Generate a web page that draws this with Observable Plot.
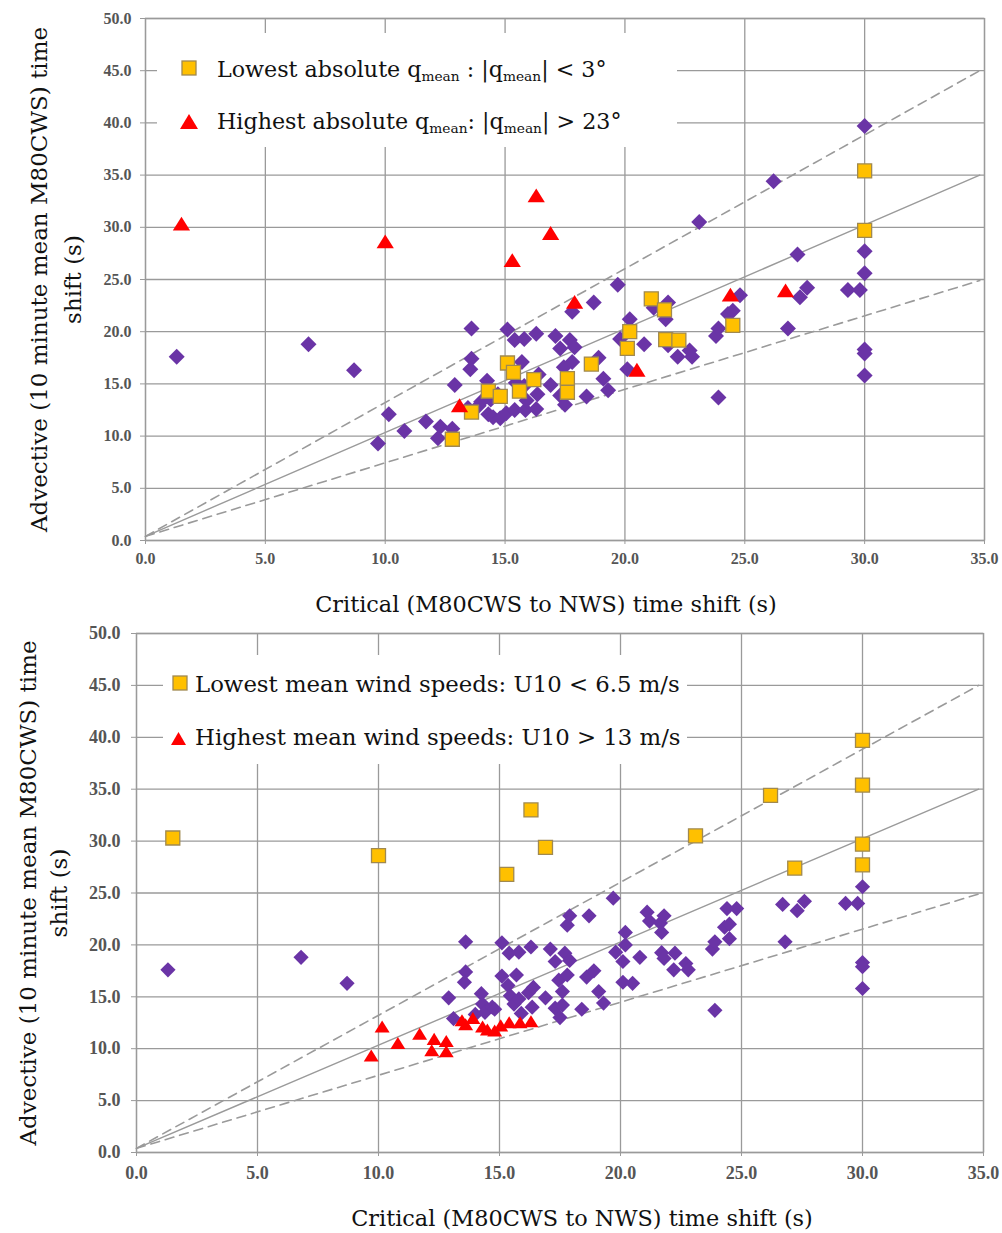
<!DOCTYPE html>
<html>
<head>
<meta charset="utf-8">
<script src="https://cdn.jsdelivr.net/npm/d3@7"></script>
<script src="https://cdn.jsdelivr.net/npm/@observablehq/plot@0.6"></script>
<style>
  body { margin: 0; background: #fff; }
  .panel { position: relative; width: 1002px; }
  .legbox { position: absolute; background: #fff; }
  .row { position: absolute; display: flex; align-items: center; white-space: nowrap;
         font-family: "DejaVu Serif", serif; color: #111; height: 40px; }
  .row svg { flex: none; }
  .sub { font-size: 0.62em; position: relative; top: 0.32em; }
</style>
</head>
<body>
<div id="p1" class="panel" style="height:620px"></div>
<div id="p2" class="panel" style="height:613px"></div>
<script>
// ---- data ----
// Critical (M80CWS to NWS) time shift (s)
const critical = [
  1.3, 1.5, 6.8, 8.7, 9.7, 10.0, 10.15, 10.8, 11.7, 12.3,
  12.2, 12.8, 12.8, 12.9, 13.1, 13.45, 13.6, 13.6, 13.6, 13.55,
  13.9, 14.0, 14.25, 14.3, 14.3, 14.5, 14.4, 14.7, 14.8, 14.8,
  15.05, 15.1, 15.1, 15.35, 15.3, 15.4, 15.4, 15.45, 15.6, 15.8,
  15.7, 15.8, 15.85, 15.9, 16.2, 16.4, 16.3, 16.35, 16.3, 16.3,
  16.9, 16.9, 17.1, 17.3, 17.45, 17.3, 17.6, 17.6, 17.5, 17.7,
  17.8, 17.8, 17.9, 17.9, 18.4, 18.6, 18.7, 18.9, 19.1, 19.3,
  19.7, 19.8, 20.1, 20.1, 20.2, 20.2, 20.5, 20.8, 21.1, 21.2,
  21.65, 21.7, 21.7, 21.8, 21.8, 22.2, 22.25, 22.7, 22.8, 23.1,
  23.8, 23.9, 23.9, 24.3, 24.4, 24.5, 24.5, 24.8, 26.2, 26.8,
  26.7, 27.2, 27.3, 27.6, 29.3, 29.8, 30.0, 30.0, 30.0, 30.0,
  30.0, 30.0, 30.0, 30.0
];
// Advective (10 minute mean M80CWS) time shift (s)
const advective = [
  17.6, 30.3, 18.8, 16.3, 9.3, 28.6, 12.1, 10.5, 11.4, 10.9,
  9.8, 10.7, 9.7, 14.9, 12.9, 12.7, 12.3, 20.3, 17.4, 16.4,
  12.9, 13.3, 15.3, 14.3, 12.1, 11.8, 13.5, 14.0, 13.8, 11.7,
  12.2, 20.2, 17.0, 16.1, 26.8, 19.2, 12.5, 15.1, 14.3, 14.8,
  17.1, 19.3, 12.5, 13.4, 15.4, 15.9, 19.8, 14.0, 12.6, 33.0,
  14.9, 29.4, 19.6, 18.4, 16.6, 13.9, 15.5, 14.2, 13.0, 19.2,
  17.1, 21.9, 22.8, 18.5, 13.8, 16.9, 22.8, 17.5, 15.5, 14.4,
  24.5, 19.3, 16.4, 18.4, 20.0, 21.2, 16.3, 18.8, 23.15, 22.3,
  22.1, 21.2, 19.25, 22.8, 18.7, 17.6, 19.2, 18.2, 17.6, 30.5,
  19.6, 20.3, 13.7, 21.7, 23.5, 22.0, 20.6, 23.5, 34.4, 20.3,
  23.9, 27.4, 23.3, 24.2, 24.0, 24.0, 39.7, 35.4, 29.7, 27.7,
  25.6, 18.3, 17.9, 15.8
];
// Upper panel groups by absolute mean direction: P other, L |q|<3°, H |q|>23°
const thetaGroup = [
  "P","H","P","P","P","H","P","P","P","P",
  "P","P","L","P","H","P","L","P","P","P",
  "P","P","P","L","P","P","P","P","L","P",
  "P","P","L","L","H","P","P","P","L","P",
  "P","P","P","P","L","P","P","P","P","H",
  "P","H","P","P","P","P","L","L","P","P",
  "P","P","H","P","P","L","P","P","P","P",
  "P","P","P","L","L","P","H","P","L","P",
  "L","P","L","P","P","P","L","P","P","P",
  "P","P","P","P","H","P","L","P","P","P",
  "H","P","P","P","P","P","P","L","L","P",
  "P","P","P","P"
];
// Lower panel groups by mean wind speed: P other, L U10<6.5 m/s, H U10>13 m/s
const windGroup = [
  "P","L","P","P","H","L","H","H","H","H",
  "H","H","H","P","P","H","H","P","P","P",
  "H","P","P","P","H","H","P","P","P","H",
  "H","P","P","P","L","P","H","P","P","P",
  "P","P","H","P","P","P","P","P","H","L",
  "P","L","P","P","P","P","P","P","P","P",
  "P","P","P","P","P","P","P","P","P","P",
  "P","P","P","P","P","P","P","P","P","P",
  "P","P","P","P","P","P","P","P","P","L",
  "P","P","P","P","P","P","P","P","L","P",
  "P","L","P","P","P","P","L","L","L","L",
  "P","P","P","P"
];
const xTicks = [0, 5, 10, 15, 20, 25, 30, 35];
const yTicks = [0, 5, 10, 15, 20, 25, 30, 35, 40, 45, 50];
// reference lines (end points)
const refX = [0, 34.8];
const refUpperY = [0.4, 45.0];
const refOneY = [0.4, 35.0];
const refLowerY = [0.4, 24.9];

const xTitle = "Critical (M80CWS to NWS) time shift (s)";
const yTitle = "Advective (10 minute mean M80CWS) time\nshift (s)";

// ---- build ----
const points = critical.map((x, i) => ({x, y: advective[i], theta: thetaGroup[i], wind: windGroup[i]}));
const refLines = [
  ...refX.map((x, i) => ({x, y: refUpperY[i], k: "upper"})),
  ...refX.map((x, i) => ({x, y: refLowerY[i], k: "lower"}))
];
const oneLine = refX.map((x, i) => ({x, y: refOneY[i]}));

const diamond = {draw(c, s) { const r = Math.sqrt(s / Math.PI); c.moveTo(0, -r); c.lineTo(r, 0); c.lineTo(0, r); c.lineTo(-r, 0); c.closePath(); }};
const square = {draw(c, s) { const r = Math.sqrt(s / Math.PI); c.rect(-r, -r, 2 * r, 2 * r); }};
const triangle = {draw(c, s) { const r = Math.sqrt(s / Math.PI); c.moveTo(0, -r); c.lineTo(r * 1.15, r * 0.85); c.lineTo(-r * 1.15, r * 0.85); c.closePath(); }};

const PURPLE = "#6a34a6", ORANGE = "#ffc000", ORANGE_EDGE = "#a08950", RED = "#ff0000", GRID = "#9a9a9a";

function panel(o) {
  const key = o.key;
  return Plot.plot({
    width: 1002, height: o.height,
    marginTop: o.mt, marginBottom: o.mb, marginLeft: o.ml, marginRight: o.mr,
    x: {domain: [0, 35]},
    y: {domain: [0, 50]},
    style: {fontFamily: "DejaVu Serif, serif", background: "#fff"},
    marks: [
      Plot.gridX(xTicks, {stroke: GRID, strokeOpacity: 1, strokeWidth: 1.3}),
      Plot.gridY(yTicks, {stroke: GRID, strokeOpacity: 1, strokeWidth: 1.3}),
      Plot.frame({stroke: GRID, strokeWidth: 1.3}),
      Plot.axisX(xTicks, {tickSize: 4, tickPadding: o.xPad, tickFormat: d => d.toFixed(1), fontSize: o.tickFont, fontFamily: "Liberation Serif, serif", fontWeight: "bold", fill: "#555", stroke: GRID, label: null}),
      Plot.axisY(yTicks, {tickSize: 5, tickPadding: o.yPad, tickFormat: d => d.toFixed(1), fontSize: o.tickFont, fontFamily: "Liberation Serif, serif", fontWeight: "bold", fill: "#555", stroke: GRID, label: null}),
      Plot.line(refLines, {x: "x", y: "y", z: "k", stroke: GRID, strokeWidth: 1.6, strokeDasharray: "9,6"}),
      Plot.line(oneLine, {x: "x", y: "y", stroke: GRID, strokeWidth: 1.4}),
      Plot.dot(points.filter(d => d[key] === "P"), {x: "x", y: "y", symbol: diamond, r: o.dr, fill: PURPLE, stroke: "none"}),
      Plot.dot(points.filter(d => d[key] === "L"), {x: "x", y: "y", symbol: square, r: 7, fill: ORANGE, stroke: ORANGE_EDGE, strokeWidth: 1.3}),
      Plot.dot(points.filter(d => d[key] === "H"), {x: "x", y: "y", symbol: triangle, r: o.tr, fill: RED, stroke: "none"}),
      Plot.text([xTitle], {frameAnchor: "bottom", dx: o.xTitleDx, dy: o.xTitleDy, text: d => d, fontSize: o.xTitleFont, fill: "#111", lineAnchor: "middle"}),
      Plot.text([yTitle], {frameAnchor: "left", dx: o.yTitleDx, rotate: -90, textAnchor: "middle", text: d => d, fontSize: o.yTitleFont, fill: "#111", lineAnchor: "middle", lineHeight: o.yLineHeight})
    ]
  });
}

document.getElementById("p1").appendChild(panel({
  key: "theta", height: 620, mt: 18, mb: 80, ml: 145, mr: 18,
  tickFont: 16, xPad: 8, yPad: 9, dr: 8, tr: 7.5,
  xTitleFont: 22.4, yTitleFont: 23, xTitleDx: -19, xTitleDy: 64, yTitleDx: -92, yLineHeight: 1.48
}));
document.getElementById("p2").appendChild(panel({
  key: "wind", height: 613, mt: 13, mb: 81, ml: 136, mr: 19,
  tickFont: 18, xPad: 10, yPad: 11, dr: 7.6, tr: 6.5,
  xTitleFont: 22.4, yTitleFont: 23, xTitleDx: 22, xTitleDy: 66, yTitleDx: -94.5, yLineHeight: 1.35
}));

// ---- legends (inside the plot area, on a white box) ----
const sqIcon = (s) => `<svg width="${s + 4}" height="${s + 4}"><rect x="2" y="2" width="${s}" height="${s}" fill="${ORANGE}" stroke="${ORANGE_EDGE}" stroke-width="1.3"/></svg>`;
const triIcon = (w, h) => `<svg width="${w}" height="${h}"><path d="M${w / 2},0L${w},${h}L0,${h}Z" fill="${RED}"/></svg>`;
const legendTop = [
  {icon: sqIcon(14), html: `Lowest absolute q<span class="sub">mean</span> : |q<span class="sub">mean</span>| &lt; 3°`},
  {icon: triIcon(18, 15), html: `Highest absolute q<span class="sub">mean</span>: |q<span class="sub">mean</span>| &gt; 23°`}
];
const legendBottom = [
  {icon: sqIcon(14), html: `Lowest mean wind speeds: U10 &lt; 6.5 m/s`},
  {icon: triIcon(15, 13), html: `Highest mean wind speeds: U10 &gt; 13 m/s`}
];
function addLegend(host, box, rows, o) {
  const b = document.createElement("div");
  b.className = "legbox";
  Object.assign(b.style, {left: box[0] + "px", top: box[1] + "px", width: box[2] + "px", height: box[3] + "px"});
  host.appendChild(b);
  rows.forEach((r, i) => {
    const d = document.createElement("div");
    d.className = "row";
    d.style.left = o.left + "px";
    d.style.top = (o.centers[i] - 20) + "px";
    d.style.fontSize = o.font + "px";
    d.innerHTML = `<span style="display:inline-block;width:${o.gap}px">${r.icon}</span><span>${r.html}</span>`;
    host.appendChild(d);
  });
}
addLegend(document.getElementById("p1"), [157, 33, 520, 114], legendTop, {left: 180, centers: [69, 121], font: 22.2, gap: 37});
addLegend(document.getElementById("p2"), [163, 35, 524, 109], legendBottom, {left: 171, centers: [64, 117], font: 22.8, gap: 24});
</script>
</body>
</html>
